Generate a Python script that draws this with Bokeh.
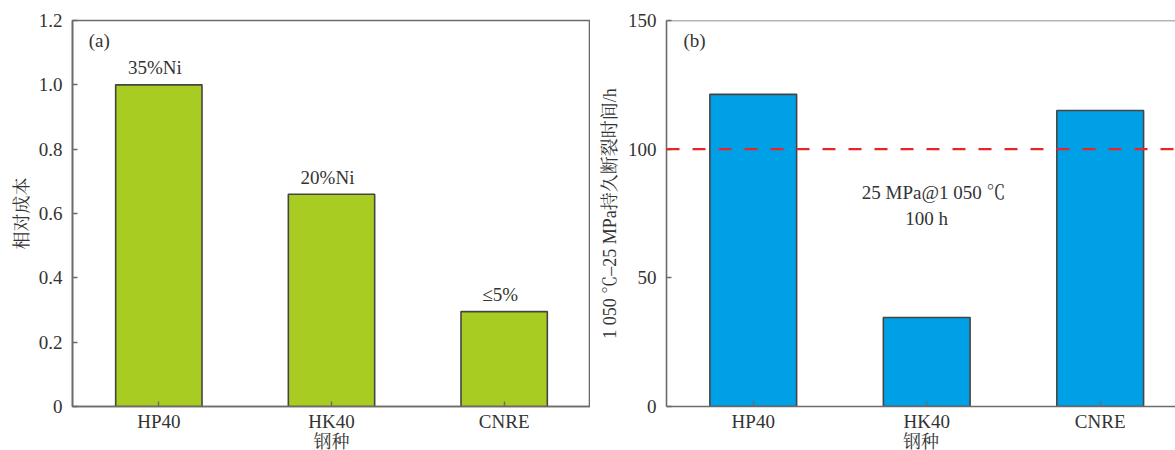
from bokeh.plotting import figure
from bokeh.models import Range1d, FixedTicker, Span, Label, ColumnDataSource
from bokeh.layouts import row
from bokeh.embed import file_html
from bokeh.resources import INLINE
from bokeh.core.properties import value

# ---- data ----
steels = ["HP40", "HK40", "CNRE"]
relative_cost = [1.0, 0.66, 0.295]
cost_notes = ["35%Ni", "20%Ni", "≤5%"]
rupture_hours = [121.3, 34.6, 115.0]
threshold_hours = 100
cost_ticks = [0, 0.2, 0.4, 0.6, 0.8, 1.0, 1.2]
cost_tick_labels = ["0", "0.2", "0.4", "0.6", "0.8", "1.0", "1.2"]
hour_ticks = [0, 50, 100, 150]
hour_tick_labels = ["0", "50", "100", "150"]
xlabel = "钢种"
ylabel_a = "相对成本"
ylabel_b = "1 050 ℃–25 MPa持久断裂时间/h"
note_b = ["25 MPa@1 050 ℃", "100 h"]

FONT = "'Liberation Serif', 'Noto Serif CJK SC', 'Noto Sans CJK SC', serif"
TXT = "#333333"
FS = "19px"
FRAME = "#6b6b6b"

xs = list(range(len(steels)))


def style(p, ticks, labels):
    p.xgrid.visible = False
    p.ygrid.visible = False
    for ax in (p.xaxis[0], p.yaxis[0]):
        ax.axis_line_color = FRAME
        ax.axis_line_width = 1.6
        ax.major_tick_line_color = FRAME
        ax.major_tick_line_width = 1.4
        ax.major_tick_in = 5
        ax.major_tick_out = 0
        ax.minor_tick_line_color = None
        ax.major_label_text_font = FONT
        ax.major_label_text_font_size = FS
        ax.major_label_text_color = TXT
        ax.axis_label_text_font = FONT
        ax.axis_label_text_font_size = "18px"
        ax.axis_label_text_color = TXT
        ax.axis_label_text_font_style = "normal"
    p.xaxis.ticker = FixedTicker(ticks=xs)
    p.xaxis.major_label_overrides = {i: s for i, s in zip(xs, steels)}
    p.xaxis.major_label_standoff = 4
    p.xaxis.axis_label = xlabel
    p.xaxis.axis_label_standoff = -3
    p.yaxis.ticker = FixedTicker(ticks=ticks)
    p.yaxis.major_label_overrides = {t: l for t, l in zip(ticks, labels)}
    p.yaxis.major_label_standoff = 10


# ---- panel (a) ----
pa = figure(frame_width=518, frame_height=386, output_backend="svg", toolbar_location=None,
            x_range=Range1d(-0.5, 2.5), y_range=Range1d(0, 1.2),
            min_border_left=72, min_border_right=0, min_border_top=20, min_border_bottom=10)
pa.outline_line_color = FRAME
pa.outline_line_width = 1.6
pa.outline_line_alpha = 1
style(pa, cost_ticks, cost_tick_labels)
pa.yaxis.axis_label = ylabel_a
pa.yaxis.axis_label_standoff = 4

src_a = ColumnDataSource(dict(x=xs, top=relative_cost, note=cost_notes))
pa.vbar(x="x", top="top", width=0.5, bottom=0, source=src_a,
        fill_color="#A9CC23", line_color="#444444", line_width=1.6)
pa.text(x="x", y="top", text="note", source=src_a, x_offset=-4, y_offset=-17,
        text_align="center", text_baseline="middle",
        text_font=value(FONT), text_font_size=FS, text_color=TXT)
pa.add_layout(Label(x=-0.406, y=1.138, text="(a)", text_align="left", text_baseline="middle",
                    text_font=FONT, text_font_size=FS, text_color=TXT))

# ---- panel (b) ----
pb = figure(frame_width=509, frame_height=386, output_backend="svg", toolbar_location=None,
            x_range=Range1d(-0.5, 2.434), y_range=Range1d(0, 150),
            min_border_left=76, min_border_right=0, min_border_top=20, min_border_bottom=10)
pb.outline_line_color = None
style(pb, hour_ticks, hour_tick_labels)
pb.yaxis.axis_label = ylabel_b
pb.yaxis.axis_label_standoff = 5
pb.add_layout(Span(location=hour_ticks[-1], dimension="width", line_color=FRAME, line_width=1.6))

src_b = ColumnDataSource(dict(x=xs, top=rupture_hours))
pb.vbar(x="x", top="top", width=0.5, bottom=0, source=src_b,
        fill_color="#00A0E6", line_color="#444444", line_width=1.6)
pb.add_layout(Span(location=threshold_hours, dimension="width", line_color="#E8262A",
                   line_width=2.2, line_dash="13 13"))
pb.add_layout(Label(x=-0.402, y=142.2, text="(b)", text_align="left", text_baseline="middle",
                    text_font=FONT, text_font_size=FS, text_color=TXT))
pb.add_layout(Label(x=1.04, y=83.2, text=note_b[0], text_align="center", text_baseline="middle",
                    text_font=FONT, text_font_size=FS, text_color=TXT))
pb.add_layout(Label(x=1.0, y=73.2, text=note_b[1], text_align="center", text_baseline="middle",
                    text_font=FONT, text_font_size=FS, text_color=TXT))

layout = row(pa, pb, spacing=0)
open("out.html", "w").write(file_html(layout, INLINE))
